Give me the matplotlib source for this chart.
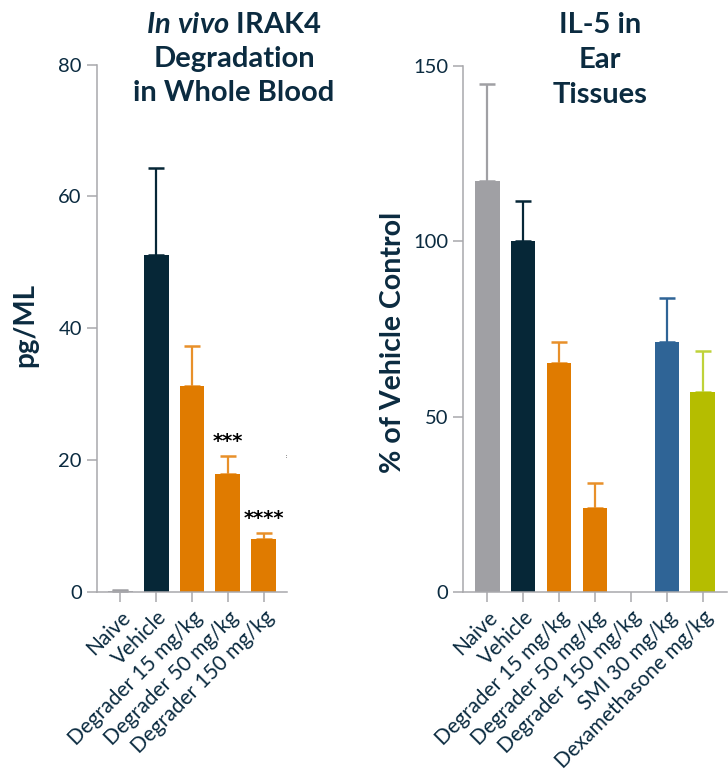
import numpy as np
import matplotlib
matplotlib.use('Agg')
import matplotlib.pyplot as plt

NAVY = '#062737'
TEXT = '#0b2b40'
GREY = '#a0a0a4'
ORANGE = '#e07b00'
BLUE = '#2f6496'
LIME = '#b5bd00'
AXIS = '#a8a8ac'

# left panel: IRAK4 in whole blood (pg/ML)
blood_groups = ['Naive', 'Vehicle', 'Degrader 15 mg/kg', 'Degrader 50 mg/kg', 'Degrader 150 mg/kg']
blood_mean = [0.15, 51.1, 31.2, 17.8, 7.95]
blood_err = [0.15, 13.2, 6.1, 2.8, 1.0]
blood_colors = [GREY, NAVY, ORANGE, ORANGE, ORANGE]
blood_ecolors = [GREY, NAVY, '#e8902a', '#e8902a', '#e8902a']
blood_stars = ['', '', '', '***', '****']

# right panel: IL-5 in ear tissues (% of vehicle)
ear_groups = ['Naive', 'Vehicle', 'Degrader 15 mg/kg', 'Degrader 50 mg/kg',
              'Degrader 150 mg/kg', 'SMI 30 mg/kg', 'Dexamethasone mg/kg']
ear_mean = [117.3, 100.2, 65.3, 23.9, np.nan, 71.3, 57.1]
ear_err = [27.7, 11.4, 6.0, 7.2, np.nan, 12.6, 11.7]
ear_colors = [GREY, NAVY, ORANGE, ORANGE, ORANGE, BLUE, LIME]
ear_ecolors = [GREY, NAVY, '#e8902a', '#e8902a', '#e8902a', BLUE, '#bfd23a']

plt.rcParams['font.family'] = ['Lato', 'DejaVu Sans']
plt.rcParams['mathtext.fontset'] = 'custom'
plt.rcParams['mathtext.it'] = 'Lato:bold:italic'
plt.rcParams['mathtext.rm'] = 'Lato:bold'

fig = plt.figure(figsize=(7.28, 7.73), dpi=100)
ax1 = fig.add_axes([0.1328, 0.2345, 0.2614, 0.682])
ax2 = fig.add_axes([0.636, 0.2345, 0.3626, 0.680])


def style_axis(ax, groups, ylim, yticks):
    ax.set_ylim(*ylim)
    ax.set_yticks(yticks)
    ax.set_xticks(range(len(groups)))
    ax.set_xticklabels(groups, rotation=45, ha='right', rotation_mode='anchor')
    for s in ['top', 'right']:
        ax.spines[s].set_visible(False)
    for s in ['left', 'bottom']:
        ax.spines[s].set_color(AXIS)
        ax.spines[s].set_linewidth(1.1)
    ax.tick_params(colors=AXIS, labelcolor=TEXT, length=7.2, width=1.1, labelsize=14.5)
    ax.tick_params(axis='x', labelsize=15, pad=4)


def draw_bars(ax, means, errs, colors, ecolors):
    x = np.arange(len(means))
    ax.bar(x, means, width=0.69, color=colors, zorder=2)
    for i in range(len(means)):
        if np.isnan(means[i]):
            continue
        ax.errorbar(x[i], means[i], yerr=[[0], [errs[i]]], fmt='none',
                    ecolor=ecolors[i], elinewidth=1.6, capsize=6, capthick=1.8, zorder=1)


draw_bars(ax1, blood_mean, blood_err, blood_colors, blood_ecolors)
style_axis(ax1, blood_groups, (0, 80), [0, 20, 40, 60, 80])
ax1.set_xlim(-0.66, 4.65)
for i, s in enumerate(blood_stars):
    if s:
        ax1.text(i, blood_mean[i] + blood_err[i] + 0.7, s, ha='center', va='bottom',
                 fontsize=14, fontweight='bold', color='black', family='DejaVu Sans')
ax1.text(4.62, 20.5, ':', fontsize=4, color='black', ha='center', va='center')

draw_bars(ax2, ear_mean, ear_err, ear_colors, ear_ecolors)
style_axis(ax2, ear_groups, (0, 150), [0, 50, 100, 150])
ax2.set_xlim(-0.67, 6.67)

fig.text(234 / 728, 1 - 25 / 773, r'$\mathit{In\ vivo}$ IRAK4', ha='center', va='center',
         fontsize=21, fontweight='bold', color=TEXT)
fig.text(234 / 728, 1 - 59 / 773, 'Degradation', ha='center', va='center',
         fontsize=21, fontweight='bold', color=TEXT)
fig.text(234 / 728, 1 - 93 / 773, 'in Whole Blood', ha='center', va='center',
         fontsize=21, fontweight='bold', color=TEXT)

for k, line in enumerate(['IL-5 in', 'Ear', 'Tissues']):
    fig.text(600 / 728, 1 - (25 + 35 * k) / 773, line, ha='center', va='center',
             fontsize=21, fontweight='bold', color=TEXT)

fig.text(25 / 728, 1 - 325 / 773, 'pg/ML', rotation=90, ha='center', va='center',
         fontsize=20, fontweight='bold', color=TEXT)
fig.text(393 / 728, 1 - 342 / 773, '% of Vehicle Control', rotation=90, ha='center',
         va='center', fontsize=20.5, fontweight='bold', color=TEXT)

fig.savefig('out.png', dpi=100)
